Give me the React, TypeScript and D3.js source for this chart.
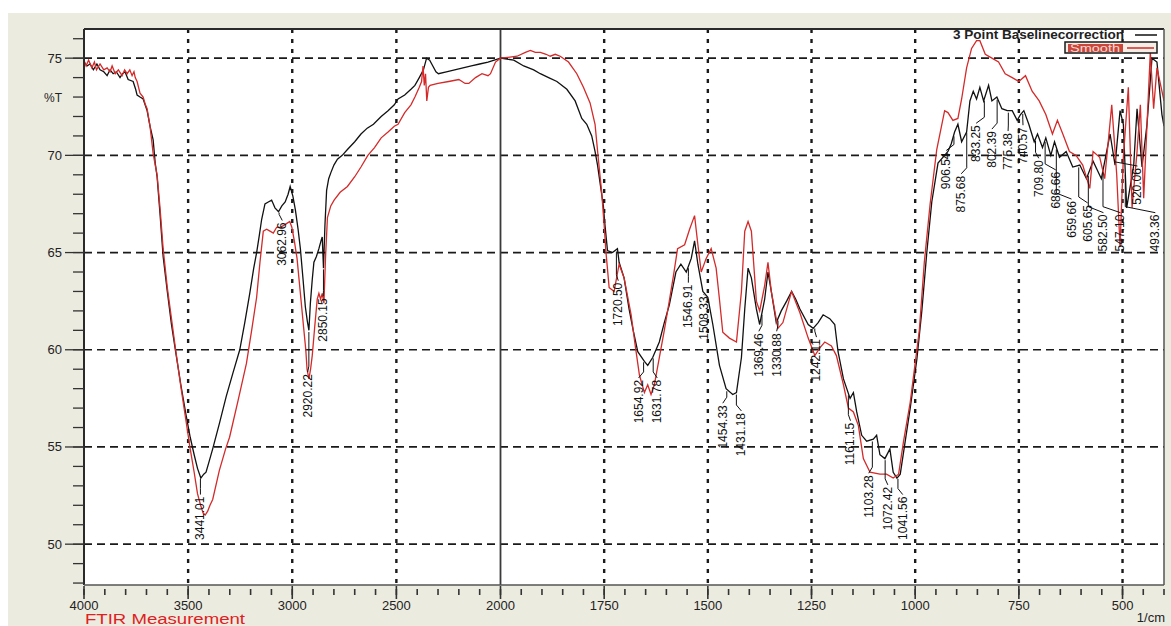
import React from 'react';
import * as d3 from 'd3';

const W = 1171;
const H = 626;

// 3 Point Baselinecorrection: [wavenumber 1/cm, %T]
const baselineSpectrum: [number, number][] = [
  [4000, 74.8], [3985, 74.6], [3971, 74.7], [3955, 74.4], [3938, 74.7], [3923, 74.4], [3905, 74.3],
  [3889, 74.1], [3875, 74.4], [3860, 74.2], [3845, 74.3], [3827, 74.0], [3815, 74.2], [3803, 74.3],
  [3788, 73.9], [3764, 73.8], [3752, 73.4], [3745, 73.1], [3731, 73.0], [3716, 72.9], [3697, 72.3],
  [3683, 71.5], [3668, 70.8], [3658, 69.6], [3649, 68.9], [3635, 67.0], [3620, 64.8], [3600, 63.0],
  [3580, 61.3], [3560, 59.9], [3535, 58.2], [3511, 56.7], [3490, 55.5], [3471, 54.6], [3455, 53.9],
  [3439, 53.4], [3425, 53.6], [3414, 53.7], [3398, 54.3], [3382, 54.9], [3350, 56.2], [3317, 57.6],
  [3285, 58.8], [3252, 60.0], [3228, 61.4], [3204, 62.9], [3185, 64.2], [3171, 65.0], [3158, 65.9],
  [3147, 66.7], [3131, 67.5], [3115, 67.6], [3099, 67.7], [3083, 67.3], [3066, 67.1], [3050, 67.4],
  [3034, 67.6], [3020, 68.0], [3010, 68.4], [2997, 67.9], [2985, 67.2], [2972, 66.2], [2961, 65.2],
  [2948, 63.6], [2937, 62.2], [2928, 61.5], [2920, 61.0], [2913, 62.4], [2904, 63.6], [2896, 64.5],
  [2884, 64.8], [2872, 65.2], [2862, 65.6], [2856, 65.8], [2850, 64.2], [2843, 66.4], [2835, 68.2],
  [2825, 68.8], [2815, 69.1], [2800, 69.5], [2783, 69.8], [2760, 70.0], [2735, 70.3], [2700, 70.7],
  [2670, 71.1], [2640, 71.4], [2610, 71.6], [2573, 72.0], [2540, 72.3], [2510, 72.6], [2492, 72.9],
  [2460, 73.1], [2430, 73.4], [2411, 73.6], [2390, 74.0], [2370, 74.4], [2355, 75.0], [2340, 74.9],
  [2325, 74.6], [2310, 74.3], [2298, 74.2], [2260, 74.3], [2220, 74.4], [2180, 74.5], [2140, 74.6],
  [2100, 74.7], [2060, 74.8], [2030, 74.9], [2000, 75.0], [1968, 74.9], [1944, 74.6], [1920, 74.4],
  [1904, 74.2], [1884, 74.0], [1864, 73.8], [1840, 73.4], [1820, 72.8], [1804, 71.9], [1792, 71.6],
  [1780, 71.0], [1772, 70.2], [1766, 69.5], [1760, 68.6], [1752, 67.4], [1748, 66.4], [1742, 65.1],
  [1730, 65.0], [1718, 65.2], [1714, 64.5], [1702, 63.7], [1690, 62.1], [1680, 61.0], [1669, 59.9],
  [1653, 59.4], [1645, 59.2], [1633, 59.6], [1617, 60.4], [1605, 61.4], [1593, 62.3], [1577, 64.0],
  [1565, 64.4], [1552, 64.0], [1540, 64.7], [1532, 65.6], [1524, 64.4], [1512, 63.0], [1500, 62.7],
  [1488, 61.3], [1472, 59.2], [1456, 58.0], [1440, 57.7], [1431, 57.8], [1419, 59.6], [1411, 62.1],
  [1403, 64.2], [1395, 63.7], [1383, 62.1], [1375, 61.3], [1363, 62.6], [1355, 64.0], [1347, 63.0],
  [1335, 61.4], [1323, 62.0], [1310, 62.5], [1298, 63.0], [1288, 62.6], [1278, 62.1], [1258, 61.3],
  [1246, 61.1], [1234, 61.4], [1222, 61.8], [1206, 61.6], [1194, 61.3], [1186, 59.9], [1173, 58.5],
  [1157, 57.5], [1149, 57.8], [1141, 56.8], [1129, 55.6], [1117, 55.3], [1101, 55.4], [1093, 55.6],
  [1085, 54.6], [1073, 54.4], [1061, 54.9], [1053, 53.7], [1044, 53.4], [1036, 53.6], [1024, 55.3],
  [1012, 57.0], [996, 59.5], [984, 62.0], [972, 65.0], [960, 67.6], [945, 69.6], [929, 70.0],
  [921, 70.2], [913, 70.6], [905, 71.2], [897, 71.6], [888, 70.7], [876, 71.2], [868, 72.8],
  [860, 73.3], [852, 72.9], [844, 73.5], [835, 72.8], [823, 73.6], [815, 72.8], [803, 73.0],
  [791, 72.4], [778, 72.3], [766, 72.3], [754, 71.8], [746, 72.1], [738, 72.3], [726, 71.6],
  [713, 70.7], [705, 71.1], [693, 70.4], [685, 70.9], [673, 70.0], [664, 70.7], [652, 69.9],
  [636, 70.2], [620, 69.4], [603, 69.5], [587, 68.8], [571, 69.7], [551, 68.8], [530, 71.1],
  [518, 69.5], [506, 72.3], [498, 71.6], [490, 67.3], [473, 69.5], [465, 72.4], [453, 69.4],
  [441, 71.6], [429, 75.0], [417, 74.8], [405, 72.1], [400, 71.5],
];

// Smooth: [wavenumber 1/cm, %T]
const smoothSpectrum: [number, number][] = [
  [4000, 74.9], [3990, 74.6], [3978, 74.9], [3962, 74.5], [3950, 74.8], [3940, 74.4], [3923, 74.7],
  [3905, 74.4], [3889, 74.5], [3875, 74.3], [3865, 74.6], [3850, 74.2], [3835, 74.4], [3817, 74.1],
  [3805, 74.4], [3793, 74.2], [3780, 74.4], [3769, 74.1], [3760, 74.3], [3754, 74.0], [3745, 73.8],
  [3731, 73.2], [3716, 73.0], [3705, 72.6], [3697, 72.4], [3683, 71.5], [3668, 70.1], [3658, 69.5],
  [3649, 69.0], [3635, 67.3], [3620, 65.2], [3600, 63.2], [3580, 61.6], [3560, 60.0], [3535, 58.1],
  [3511, 56.4], [3490, 54.9], [3471, 53.7], [3455, 52.6], [3440, 52.0], [3428, 51.6], [3418, 51.5],
  [3406, 51.7], [3395, 52.0], [3382, 52.3], [3350, 53.8], [3320, 54.9], [3301, 55.5], [3260, 57.4],
  [3220, 59.3], [3195, 61.0], [3171, 62.7], [3155, 64.5], [3139, 66.1], [3123, 66.2], [3107, 66.1],
  [3091, 66.0], [3075, 66.3], [3058, 66.3], [3040, 66.4], [3026, 66.5], [3012, 66.6], [3002, 66.3],
  [2990, 65.6], [2977, 64.7], [2960, 62.8], [2945, 61.1], [2935, 60.0], [2929, 59.0], [2920, 58.5],
  [2912, 59.0], [2904, 59.7], [2892, 61.2], [2880, 62.6], [2872, 62.9], [2864, 62.6], [2856, 62.9],
  [2848, 62.4], [2840, 64.8], [2831, 66.8], [2815, 67.4], [2799, 67.7], [2770, 68.1], [2735, 68.4],
  [2700, 68.9], [2670, 69.4], [2637, 70.0], [2605, 70.4], [2573, 70.9], [2540, 71.2], [2510, 71.5],
  [2492, 71.6], [2460, 72.2], [2430, 72.6], [2411, 73.0], [2390, 73.5], [2379, 73.8], [2372, 74.6],
  [2366, 73.6], [2360, 74.2], [2354, 72.8], [2346, 73.5], [2338, 73.6], [2300, 73.7], [2249, 73.8],
  [2200, 73.9], [2170, 73.7], [2152, 73.7], [2120, 74.0], [2089, 74.2], [2060, 74.1], [2048, 74.2],
  [2024, 74.8], [2000, 75.0], [1960, 75.1], [1940, 75.3], [1928, 75.4], [1916, 75.3], [1904, 75.3],
  [1890, 75.2], [1880, 75.1], [1868, 75.2], [1856, 75.1], [1836, 74.8], [1816, 74.2], [1800, 73.5],
  [1784, 72.7], [1772, 71.6], [1764, 69.8], [1756, 68.1], [1750, 66.4], [1746, 65.1], [1738, 63.2],
  [1726, 63.0], [1714, 64.4], [1702, 63.7], [1685, 61.8], [1675, 60.2], [1665, 58.7], [1653, 57.8],
  [1645, 58.2], [1637, 57.7], [1629, 58.2], [1617, 59.6], [1605, 61.0], [1593, 62.5], [1583, 63.8],
  [1573, 65.2], [1556, 65.4], [1544, 66.2], [1532, 66.9], [1524, 65.4], [1516, 64.0], [1504, 64.7],
  [1492, 65.2], [1480, 64.2], [1472, 62.6], [1464, 60.9], [1448, 60.6], [1431, 60.4], [1419, 63.0],
  [1411, 66.1], [1403, 66.6], [1395, 66.1], [1383, 62.5], [1375, 62.0], [1363, 63.3], [1355, 64.5],
  [1347, 63.0], [1331, 61.1], [1319, 61.4], [1298, 63.0], [1278, 61.9], [1258, 60.6], [1242, 59.7],
  [1230, 60.1], [1218, 60.4], [1202, 60.2], [1190, 59.7], [1173, 58.2], [1161, 57.0], [1149, 56.8],
  [1137, 56.1], [1125, 54.4], [1109, 53.7], [1085, 53.6], [1069, 53.6], [1053, 53.4], [1040, 53.6],
  [1028, 55.3], [1012, 57.3], [990, 61.0], [978, 64.5], [964, 67.5], [948, 70.3], [929, 72.3],
  [921, 72.2], [909, 71.8], [897, 71.9], [888, 72.9], [876, 74.5], [864, 75.5], [852, 75.9],
  [844, 75.9], [831, 75.2], [815, 75.0], [799, 74.8], [783, 74.2], [766, 74.0], [750, 73.8],
  [734, 74.1], [718, 73.3], [701, 72.8], [685, 72.1], [669, 71.1], [657, 71.8], [644, 71.1],
  [628, 70.2], [612, 70.0], [596, 69.5], [579, 68.3], [571, 70.2], [555, 69.9], [543, 68.8],
  [526, 72.6], [514, 69.0], [506, 65.3], [498, 69.9], [486, 73.5], [477, 67.3], [465, 70.2],
  [457, 72.6], [449, 67.8], [433, 75.3], [425, 72.4], [417, 74.5], [405, 73.3], [400, 72.8],
];

// peak table
const peakNames = [
  '3441.01', '3062.96', '2920.22', '2850.15', '1720.50', '1654.92', '1631.78', '1546.91',
  '1508.33', '1454.33', '1431.18', '1369.46', '1330.88', '1242.11', '1161.15', '1103.28',
  '1072.42', '1041.56', '906.54', '875.68', '833.25', '802.39', '775.38', '740.57',
  '709.80', '686.66', '659.66', '605.65', '582.50', '547.10', '520.06', '493.36',
];
// where each label text sits (1/cm)
const peakLabelWn = [
  3441, 3048, 2926, 2851, 1716, 1667, 1622, 1547,
  1510, 1464, 1419, 1377, 1334, 1238, 1156, 1112,
  1066, 1030, 925, 889, 853, 815, 776, 740,
  702, 661, 623, 584, 546, 505, 464, 421,
];
// %T level of the top end of each label
const peakLabelT = [
  52.5, 66.6, 58.8, 62.7, 63.5, 58.5, 58.5, 63.4,
  62.8, 57.2, 56.8, 60.9, 60.9, 60.6, 56.3, 53.6,
  53.0, 52.5, 70.2, 69.0, 71.6, 71.3, 71.2, 71.5,
  69.8, 69.2, 67.7, 67.5, 67.0, 67.0, 69.4, 67.0,
];

const yMajor = [50, 55, 60, 65, 70, 75];
const yMinor = d3.range(48, 77, 1);
const xLabels = [4000, 3500, 3000, 2500, 2000, 1750, 1500, 1250, 1000, 750, 500];
const xGrid = [3500, 3000, 2500, 1750, 1500, 1250, 1000, 750, 500];
const xMinor = [...d3.range(4000, 2000, -100), ...d3.range(2000, 399, -50)];

const left = 84;
const right = 1164;
const top = 29;
const bottom = 585;

const font = '"Liberation Sans", Arial, sans-serif';

const x = d3.scaleLinear().domain([4000, 2000, 400]).range([left, 500.5, right]);
const y = d3.scaleLinear().domain([47.9, 76.5]).range([bottom, top]);

const line = d3
  .line<[number, number]>()
  .x((d) => x(d[0]))
  .y((d) => y(d[1]));

function valueAt(series: [number, number][], wn: number) {
  for (let i = 0; i < series.length - 1; i++) {
    const [w0, t0] = series[i];
    const [w1, t1] = series[i + 1];
    if (wn <= w0 && wn >= w1) {
      return t0 + ((wn - w0) / (w1 - w0)) * (t1 - t0);
    }
  }
  return series[series.length - 1][1];
}

export default function App() {
  return (
    <svg
      width={W}
      height={H}
      style={{ position: 'absolute', left: 0, top: 0, display: 'block' }}
      fontFamily={font}
    >
      <rect x={0} y={0} width={W} height={H} fill="#ffffff" />
      <rect x={8} y={13} width={W - 8} height={H - 13} fill="#ecebe0" />
      <rect x={left} y={top} width={right - left} height={bottom - top} fill="#ffffff" />

      <defs>
        <clipPath id="plot">
          <rect x={left} y={top} width={right - left} height={bottom - top} />
        </clipPath>
      </defs>

      {/* grid */}
      {yMajor.map((v) => (
        <line
          key={'h' + v}
          x1={left}
          x2={right}
          y1={y(v)}
          y2={y(v)}
          stroke="#1a1a1a"
          strokeWidth={1.7}
          strokeDasharray="8,5"
        />
      ))}
      {xGrid.map((v) => (
        <line
          key={'v' + v}
          x1={x(v)}
          x2={x(v)}
          y1={top}
          y2={bottom}
          stroke="#1a1a1a"
          strokeWidth={2.4}
          strokeDasharray="4,6"
        />
      ))}
      <line x1={x(2000)} x2={x(2000)} y1={top} y2={bottom} stroke="#3a3a3a" strokeWidth={1.8} />

      {/* spectra */}
      <g clipPath="url(#plot)" fill="none" strokeLinejoin="miter">
        <path d={line(baselineSpectrum) ?? ''} stroke="#111111" strokeWidth={1.3} />
        <path d={line(smoothSpectrum) ?? ''} stroke="#d42a2a" strokeWidth={1.3} />
      </g>

      {/* peak labels */}
      <g clipPath="url(#plot)">
        {peakNames.map((name, i) => {
          const wn = parseFloat(name);
          const x0 = x(wn);
          const y0 = y(valueAt(baselineSpectrum, wn)) + 2;
          const xl = x(peakLabelWn[i]);
          const yt = y(peakLabelT[i]);
          const bend = Math.max(y0, yt - 7);
          const pts = `${x0},${y0} ${x0},${bend} ${xl},${yt - 1}`;
          return (
            <g key={name}>
              <polyline points={pts} fill="none" stroke="#111" strokeWidth={1} />
              <text
                transform={`translate(${xl + 4},${yt + 1}) rotate(-90)`}
                textAnchor="end"
                fontSize={12}
                fill="#111"
              >
                {name}
              </text>
            </g>
          );
        })}
      </g>

      {/* frame */}
      <line x1={left} x2={right} y1={top} y2={top} stroke="#2a2a2a" strokeWidth={2} />
      <line x1={left} x2={left} y1={top} y2={bottom} stroke="#2a2a2a" strokeWidth={2} />
      <line x1={right} x2={right} y1={top} y2={bottom} stroke="#555" strokeWidth={1.5} />
      <line x1={left} x2={right} y1={bottom} y2={bottom} stroke="#555" strokeWidth={1.5} />

      {/* y axis */}
      {yMinor.map((v) => (
        <line key={'ym' + v} x1={73} x2={left} y1={y(v)} y2={y(v)} stroke="#333" strokeWidth={1.3} />
      ))}
      {yMajor.map((v) => (
        <g key={'yl' + v}>
          <line x1={65} x2={left} y1={y(v)} y2={y(v)} stroke="#333" strokeWidth={1.3} />
          <text x={62} y={y(v) + 4.5} textAnchor="end" fontSize={13} fill="#222">
            {v}
          </text>
        </g>
      ))}
      <text x={62} y={y(73) + 4.5} textAnchor="end" fontSize={12} fill="#222">
        %T
      </text>

      {/* x axis */}
      {xMinor.map((v) => (
        <line key={'xm' + v} x1={x(v)} x2={x(v)} y1={589} y2={595} stroke="#333" strokeWidth={1.6} />
      ))}
      {xLabels.map((v) => (
        <g key={'xl' + v}>
          <line x1={x(v)} x2={x(v)} y1={586} y2={599} stroke="#333" strokeWidth={1.6} />
          <text x={x(v)} y={610} textAnchor="middle" fontSize={13} fill="#222">
            {v}
          </text>
        </g>
      ))}
      <text x={1165} y={622} textAnchor="end" fontSize={13} fill="#222">
        1/cm
      </text>
      <text x={85} y={624} fontSize={14} fill="#e02020" textLength={160} lengthAdjust="spacingAndGlyphs">
        FTIR Measurement
      </text>

      {/* legend */}
      <text
        x={1124}
        y={39}
        textAnchor="end"
        fontSize={12}
        fontWeight="bold"
        fill="#222"
        textLength={171}
        lengthAdjust="spacingAndGlyphs"
      >
        3 Point Baselinecorrection
      </text>
      <line x1={1135} x2={1157} y1={35} y2={35} stroke="#111" strokeWidth={1.5} />
      <rect x={1065} y={42} width={92} height={11} fill="#f4eee6" stroke="#1a1a1a" strokeWidth={1.5} />
      <rect x={1068} y={44} width={55} height={8} fill="#c9463c" />
      <text x={1070} y={51.5} fontSize={10} fill="#f8d8d0" textLength={50} lengthAdjust="spacingAndGlyphs">
        Smooth
      </text>
      <line x1={1127} x2={1154} y1={48} y2={48} stroke="#d42a2a" strokeWidth={1.5} />
    </svg>
  );
}
